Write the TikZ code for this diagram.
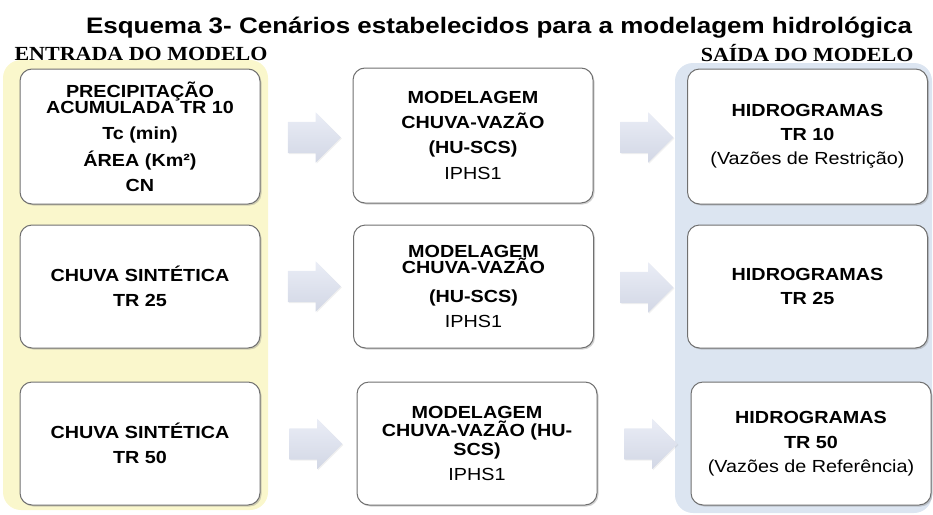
\documentclass[tikz,border=0pt]{standalone}
\usepackage{fontspec}
\setmainfont{Liberation Sans}[FakeStretch=1.13]
\newfontfamily\titlefont{Liberation Sans}[FakeStretch=1.16]
\newfontfamily\labelfont{Liberation Serif}[FakeStretch=1.1]
\usepackage{tikz}
\usetikzlibrary{shapes.arrows,shadows}

\definecolor{panelyellow}{RGB}{250,247,204}
\definecolor{panelblue}{RGB}{220,229,241}
\definecolor{boxline}{RGB}{112,112,112}
\definecolor{arrowtop}{RGB}{234,237,246}
\definecolor{arrowbot}{RGB}{210,215,229}

\newcommand{\boxfont}{\fontsize{17.5pt}{16.5pt}\selectfont\bfseries}
\newcommand{\labfont}{\labelfont\fontsize{20pt}{20pt}\selectfont\bfseries}

\begin{document}
\begin{tikzpicture}[x=1pt,y=-1pt,
  panel/.style={rounded corners=18pt,inner sep=0pt},
  cell/.style={draw=boxline,line width=1pt,fill=white,rounded corners=12pt,
    minimum width=240pt,minimum height=123pt,inner sep=2pt,align=center,font=\boxfont,
    drop shadow={shadow xshift=1.5pt,shadow yshift=-1.5pt,opacity=0.35}},
  blockarrow/.style={single arrow,single arrow head extend=9.5pt,inner xsep=0pt,
    inner ysep=15.5pt,minimum height=53pt,draw=none,top color=arrowtop,bottom color=arrowbot,
    drop shadow={shadow xshift=1pt,shadow yshift=-1pt,opacity=0.12}}]
  \useasboundingbox (0,0) rectangle (933,514);
  \node (title) at (499,33) [anchor=base,font=\titlefont\fontsize{22.4pt}{22.4pt}\selectfont\bfseries]
    {Esquema 3- Cenários estabelecidos para a modelagem hidrológica};
  \node (inpanel) at (135.5,285) [panel,fill=panelyellow,minimum width=265pt,minimum height=450pt] {};
  \node (outpanel) at (803.5,288) [panel,fill=panelblue,minimum width=257pt,minimum height=450pt] {};
  \node (inlabel) at (11,60) [anchor=base west,font=\labfont] {ENTRADA DO MODELO};
  \node (outlabel) at (917,61) [anchor=base east,font=\labfont] {SAÍDA DO MODELO};

  \node (in1) at (140,136.5) [cell,minimum height=135pt]
    {PRECIPITAÇÃO\\ACUMULADA TR 10\\[9pt]Tc (min)\\[7pt]ÁREA (Km²)\\[8pt]CN};
  \node (in2) at (140,286.5) [cell] {CHUVA SINTÉTICA\\[8.5pt]TR 25};
  \node (in3) at (140,443.5) [cell] {CHUVA SINTÉTICA\\[8.5pt]TR 50};

  \node (mod1) at (473,135.5) [cell,minimum height=135pt]
    {MODELAGEM\\[8.5pt]CHUVA-VAZÃO\\[8.5pt](HU-SCS)\\[9pt]{\mdseries IPHS1}};
  \node (mod2) at (473.5,286.5) [cell]
    {MODELAGEM\\CHUVA-VAZÃO\\[12.5pt](HU-SCS)\\[8.5pt]{\mdseries IPHS1}};
  \node (mod3) at (477,443.5) [cell]
    {MODELAGEM\\[1.5pt]CHUVA-VAZÃO (HU-\\[2pt]SCS)\\[9pt]{\mdseries IPHS1}};

  \node (out1) at (807.5,136.5) [cell,minimum height=135pt]
    {HIDROGRAMAS\\[7pt]TR 10\\[8pt]{\mdseries (Vazões de Restrição)}};
  \node (out2) at (807.5,286.5) [cell] {HIDROGRAMAS\\[8pt]TR 25};
  \node (out3) at (811,443.5) [cell]
    {HIDROGRAMAS\\[8.5pt]TR 50\\[7.5pt]{\mdseries (Vazões de Referência)}};

  \node (run1) at (306.5,137.5) [blockarrow] {};
  \node (run2) at (306.5,286.5) [blockarrow] {};
  \node (run3) at (308,444) [blockarrow] {};
  \node (res1) at (639,137.5) [blockarrow] {};
  \node (res2) at (639,287.5) [blockarrow] {};
  \node (res3) at (643,444) [blockarrow] {};
\end{tikzpicture}
\end{document}
